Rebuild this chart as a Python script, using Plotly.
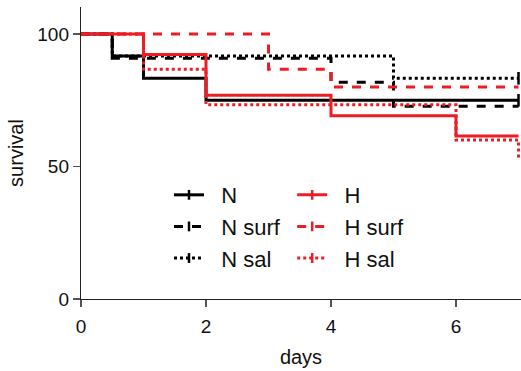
import plotly.graph_objects as go

# Kaplan-Meier style survival data (days, % survival)
n_t = [0, 0.5, 1, 2, 7]
n_s = [100, 91.7, 83.3, 75, 75]
nsurf_t = [0, 0.5, 4, 5, 7]
nsurf_s = [100, 90.9, 81.8, 72.7, 72.7]
nsal_t = [0, 0.5, 5, 7]
nsal_s = [100, 91.7, 83.3, 83.3]
h_t = [0, 1, 2, 4, 6, 7]
h_s = [100, 92.3, 76.9, 69.2, 61.5, 61.5]
hsurf_t = [0, 3, 4, 7]
hsurf_s = [100, 86.7, 80, 80]
hsal_t = [0, 1, 2, 6, 7]
hsal_s = [100, 86.7, 73.3, 60, 53.3]

# censored observations (tick marks)
cens_n_t = [7]
cens_n_s = [75]
cens_nsal_t = [7]
cens_nsal_s = [83.3]

x_ticks = [0, 2, 4, 6]
y_ticks = [0, 50, 100]

BLACK = "#000000"
RED = "#ee1c25"
NB = "\u00a0\u00a0"

series = [
    ("N", n_t, n_s, BLACK, "solid", "legend"),
    ("N surf", nsurf_t, nsurf_s, BLACK, "dash", "legend"),
    ("N sal", nsal_t, nsal_s, BLACK, "dot", "legend"),
    ("H", h_t, h_s, RED, "solid", "legend2"),
    ("H surf", hsurf_t, hsurf_s, RED, "dash", "legend2"),
    ("H sal", hsal_t, hsal_s, RED, "dot", "legend2"),
]

fig = go.Figure()
for name, t, s, col, dash, leg in series:
    fig.add_trace(go.Scatter(
        x=t, y=s, mode="lines", line=dict(color=col, width=3, dash=dash, shape="hv"),
        showlegend=False, hoverinfo="skip"))

for ct, cs, col in [(cens_n_t, cens_n_s, BLACK), (cens_nsal_t, cens_nsal_s, BLACK)]:
    fig.add_trace(go.Scatter(
        x=ct, y=cs, mode="markers", cliponaxis=False,
        marker=dict(symbol="line-ns-open", size=9, color=col, line=dict(color=col, width=2.5)),
        showlegend=False, hoverinfo="skip"))

# legend entries
for name, t, s, col, dash, leg in series:
    fig.add_trace(go.Scatter(
        x=[None], y=[None], mode="lines+markers", name=NB + name, legend=leg,
        line=dict(color=col, width=3, dash=dash),
        marker=dict(symbol="line-ns-open", size=7, color=col, line=dict(color=col, width=2.5)),
    ))

axis_common = dict(
    showgrid=False, zeroline=False, showline=True, linecolor="#222", linewidth=1.2,
    ticks="outside", ticklen=7, tickcolor="#555", tickwidth=1.2, automargin=False,
    tickfont=dict(size=19, color="#111", family="Arial"),
)

fig.update_layout(
    width=521, height=371,
    margin=dict(l=81, r=0, t=7, b=72),
    plot_bgcolor="white", paper_bgcolor="white",
    font=dict(family="Arial", color="#111"),
    hovermode=False,
    xaxis=dict(range=[0, 7.04], tickvals=x_ticks, ticklabelstandoff=3,
               title=dict(text="days", font=dict(size=20), standoff=14), **axis_common),
    yaxis=dict(range=[0, 110.2], tickvals=y_ticks,
               title=dict(text="survival", font=dict(size=20), standoff=8), **axis_common),
    legend=dict(x=0.20, y=0.428, xanchor="left", yanchor="top", bgcolor="rgba(0,0,0,0)",
                font=dict(size=22), tracegroupgap=0, itemwidth=30),
    legend2=dict(x=0.48, y=0.428, xanchor="left", yanchor="top", bgcolor="rgba(0,0,0,0)",
                 font=dict(size=22), tracegroupgap=0, itemwidth=30),
)

fig.write_html("out.html", config={"displayModeBar": False, "staticPlot": True},
               post_script="document.body.style.margin='0';")
